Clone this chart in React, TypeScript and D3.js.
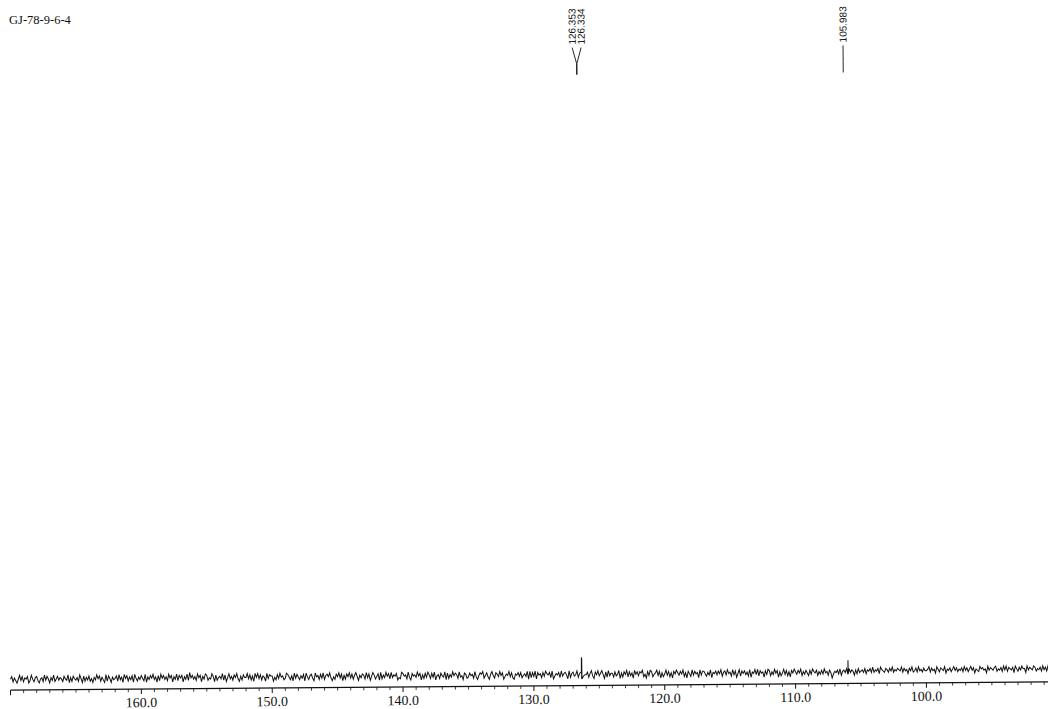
import React from 'react';
import * as d3 from 'd3';

const title = 'GJ-78-9-6-4';
const majorTicks = [170, 160, 150, 140, 130, 120, 110, 100, 90];
const tickLabelValues = [160, 150, 140, 130, 120, 110, 100];
const tickLabels = ['160.0', '150.0', '140.0', '130.0', '120.0', '110.0', '100.0'];
const peakPpm = [126.353, 126.334, 105.983];
const peakLabels = ['126.353', '126.334', '105.983'];
const peakIntensity = [17.5, 16.5, 13.5];
const noiseStartPpm = 170;
const noiseStepPpm = 0.1;
const noiseRows = [
  '4625314736', '2546137425', '6314527364', '1537246354', '2643715264',
  '3527416253', '6241537462', '5317264153', '4627351746', '2536174253',
  '6427153647', '3516274635', '2746153726', '4615372846', '3527461537',
  '6243751624', '5372614735', '2647315264', '4736251747', '3625417365',
  '5142637452', '3764251736', '4253617425', '6317452637', '2564731426',
  '4736152647', '3625741536', '5273614752', '4617253746', '2735461327',
  '6452731645', '3746152637', '5263714526', '4371625374', '6527341652',
  '3645273146', '5724631574', '2653746135', '4736215463', '6245371726',
  '3716452637', '5462713546', '2735641725', '6347256134', '4625731647',
  '3574162735', '5263471526', '4726351746', '3657241637', '6245736152',
  '4736251647', '5364725164', '2736451736', '6425371546', '3647256374',
  '5273614726', '4635271547', '3726451637', '6253746152', '4736251647',
  '5364725364', '2637546253', '6374526403', '5463725647', '3746526374',
  '5647365748', '4657386547', '6475846576', '5847563758', '4574856475',
  '5684756386', '4765836574', '6857465748', '5746857365', '4867563857',
  '6578465748', '5847657386', '4758663857', '6587465748', '5748657486',
];

const W = 1048;
const H = 709;
const axisY = 686;
const baseOffset = 11.5;
const pxPerUnit = 1.3;

export default function App() {
  const x = d3.scaleLinear().domain([170, 90]).range([10.5, 10.5 + 80 * 13.085]);
  const y = d3
    .scaleLinear()
    .domain([4.5, 104.5])
    .range([axisY - baseOffset, axisY - baseOffset - 100 * pxPerUnit]);

  const noise = noiseRows.join('').split('').map((c, i) => ({ ppm: noiseStartPpm - i * noiseStepPpm, v: +c }));
  const pts = [...noise];
  peakPpm.forEach((p, i) => {
    const idx = Math.round((noiseStartPpm - p) / noiseStepPpm);
    const base = noise[Math.max(0, Math.min(noise.length - 1, idx))].v;
    pts.push({ ppm: p + 0.012, v: base });
    pts.push({ ppm: p, v: peakIntensity[i] });
    pts.push({ ppm: p - 0.012, v: base });
  });
  pts.sort((a, b) => b.ppm - a.ppm);
  const line = d3.line<{ ppm: number; v: number }>().x(d => x(d.ppm)).y(d => y(d.v));

  const minorTicks = d3.range(170, 89, -1).filter(t => t % 10 !== 0);

  const peakX = peakPpm.map(p => x(p));
  const order = peakX.map((v, i) => i).sort((a, b) => peakX[a] - peakX[b]);
  const minGap = 9;
  const groups: number[][] = [];
  order.forEach(i => {
    const g = groups[groups.length - 1];
    if (g && peakX[i] - peakX[g[g.length - 1]] < minGap) g.push(i);
    else groups.push([i]);
  });
  const labelX: number[] = [];
  groups.forEach(g => {
    const mean = d3.mean(g, i => peakX[i]) as number;
    g.forEach((i, k) => {
      labelX[i] = mean + (k - (g.length - 1) / 2) * minGap;
    });
  });

  const textBottom = 45;
  const lineTop = 48;
  const bendY = 64;
  const stemBottom = 75;

  return (
    <svg width={W} height={H} style={{ position: 'absolute', left: 0, top: 0, background: '#fff', overflow: 'hidden' }}>
      <rect x={0} y={0} width={W} height={H} fill="#fff" />
      <text x={9} y={24} fontFamily="'Liberation Serif', serif" fontSize={12.5} fill="#111">{title}</text>
      <g transform={`rotate(-0.46, 529, ${axisY})`}>
        {peakPpm.map((p, i) => (
          <g key={'pl' + i}>
            <text
              transform={`translate(${labelX[i] + 3.6},${textBottom}) rotate(-90)`}
              textAnchor="start"
              fontFamily="'Liberation Sans', Arial, sans-serif"
              fontSize={10}
              fill="#111"
            >
              {peakLabels[i]}
            </text>
            <polyline
              points={`${labelX[i]},${lineTop} ${peakX[i]},${bendY} ${peakX[i]},${stemBottom}`}
              fill="none"
              stroke="#111"
              strokeWidth={0.9}
            />
          </g>
        ))}
        <path d={line(pts) || ''} fill="none" stroke="#111" strokeWidth={1} strokeLinejoin="miter" />
        <line x1={x(170)} x2={x(90)} y1={axisY} y2={axisY} stroke="#111" strokeWidth={1.3} />
        {majorTicks.map(t => (
          <line key={'M' + t} x1={x(t)} x2={x(t)} y1={axisY} y2={axisY + 5} stroke="#111" strokeWidth={1} />
        ))}
        {minorTicks.map(t => (
          <line key={'m' + t} x1={x(t)} x2={x(t)} y1={axisY} y2={axisY + 3} stroke="#111" strokeWidth={0.8} />
        ))}
        {tickLabelValues.map((t, i) => (
          <text
            key={'tl' + t}
            x={x(t)}
            y={axisY + 18}
            textAnchor="middle"
            fontFamily="'Liberation Serif', serif"
            fontSize={14}
            fill="#111"
          >
            {tickLabels[i]}
          </text>
        ))}
      </g>
    </svg>
  );
}
